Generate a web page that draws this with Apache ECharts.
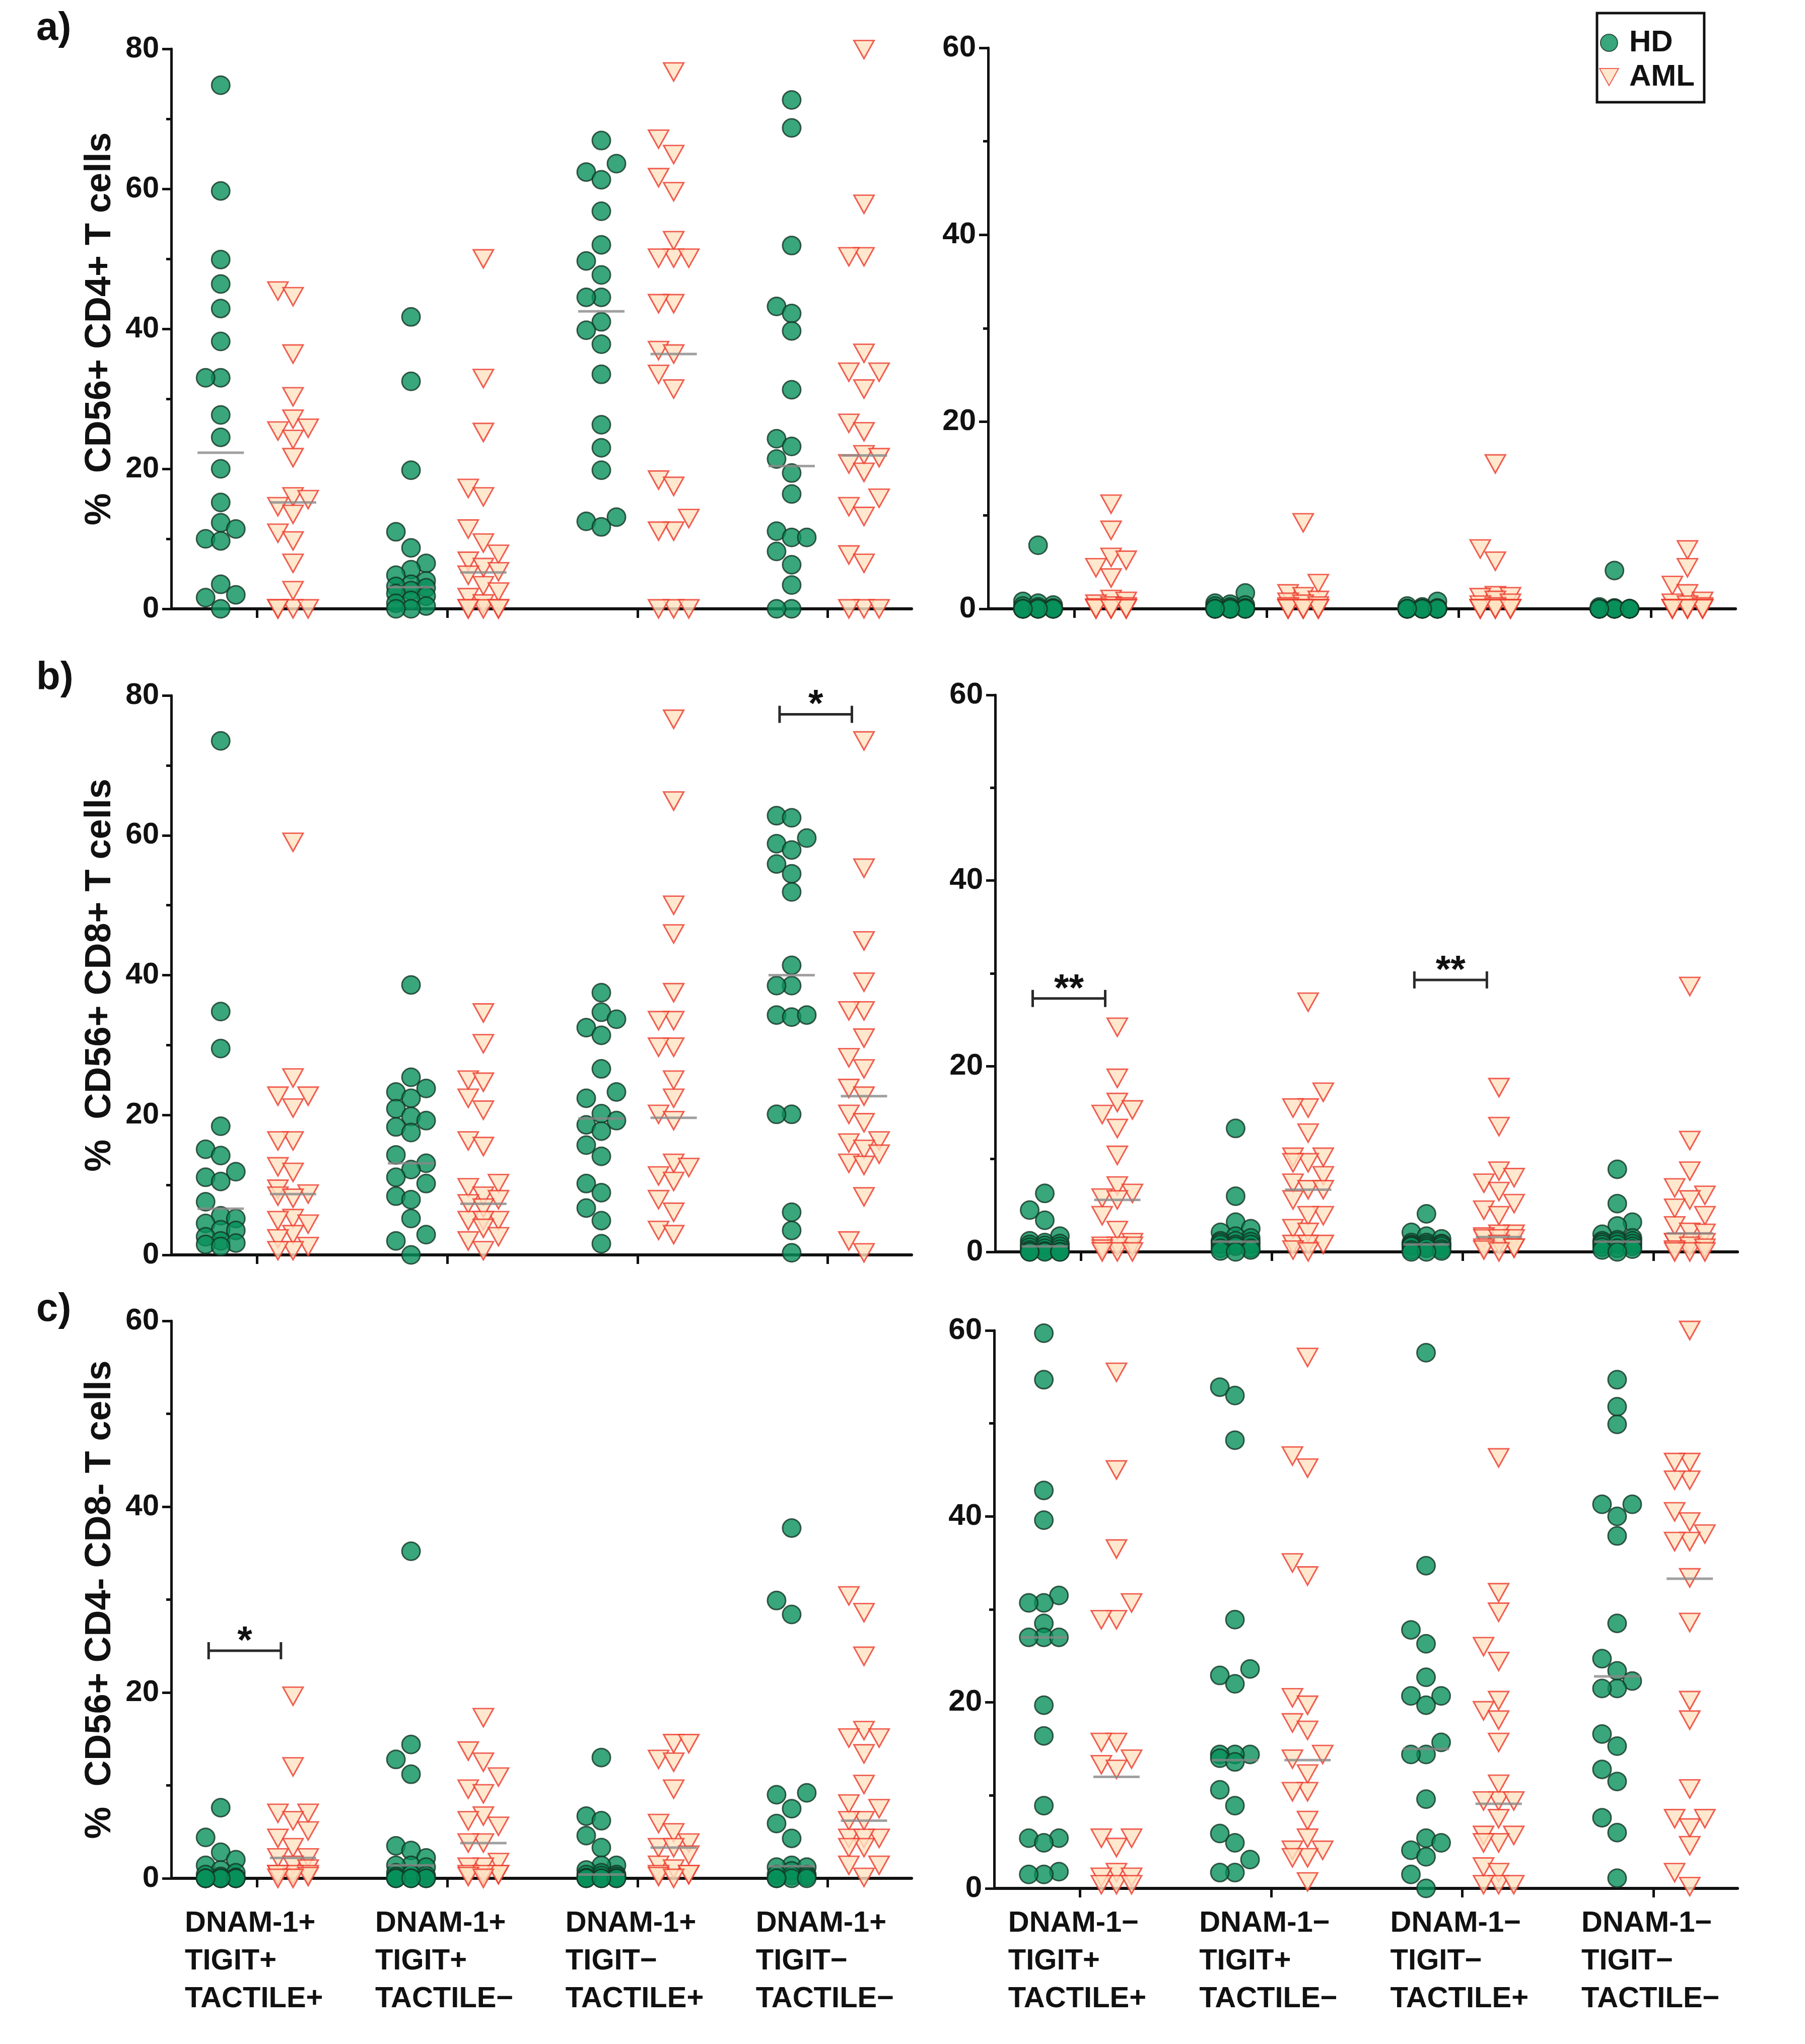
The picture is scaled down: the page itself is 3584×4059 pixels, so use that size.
<!DOCTYPE html>
<html><head><meta charset="utf-8">
<script src="https://cdn.jsdelivr.net/npm/echarts@6/dist/echarts.min.js"></script>
<style>html,body{margin:0;padding:0;background:#fff}#c{width:3584px;height:4059px}</style>
</head><body><div id="c"></div>
<script>
// ---------- category / tick labels ----------
const groupLabelsPos = ['DNAM-1+\nTIGIT+\nTACTILE+', 'DNAM-1+\nTIGIT+\nTACTILE\u2212', 'DNAM-1+\nTIGIT\u2212\nTACTILE+', 'DNAM-1+\nTIGIT\u2212\nTACTILE\u2212'];
const groupLabelsNeg = ['DNAM-1\u2212\nTIGIT+\nTACTILE+', 'DNAM-1\u2212\nTIGIT+\nTACTILE\u2212', 'DNAM-1\u2212\nTIGIT\u2212\nTACTILE+', 'DNAM-1\u2212\nTIGIT\u2212\nTACTILE\u2212'];
const yTitles = ['%  CD56+ CD4+ T cells', '%  CD56+ CD8+ T cells', '%  CD56+ CD4- CD8- T cells'];
const panelTags = ['a)', 'b)', 'c)'];
const seriesNames = ['HD', 'AML'];

// ---------- a) CD56+ CD4+ T cells, DNAM-1+ subsets ----------
const cd4PosHD = [
  [74.8, 59.7, 49.9, 46.4, 42.9, 38.2, 33.0, 33.0, 27.7, 24.5, 20.0, 15.2, 12.3, 11.4, 10.0, 9.7, 3.5, 2.0, 1.6, 0.0],
  [41.7, 32.5, 19.8, 11.0, 8.7, 6.5, 5.6, 4.8, 4.0, 3.5, 3.2, 3.0, 2.6, 2.2, 1.8, 1.2, 0.8, 0.4, 0, 0],
  [66.9, 63.6, 62.4, 61.3, 56.8, 52.0, 49.7, 47.7, 44.5, 44.5, 41.0, 39.8, 37.8, 33.5, 26.3, 23.0, 19.8, 13.1, 12.5, 11.7],
  [72.7, 68.7, 51.9, 43.2, 42.2, 39.7, 31.3, 24.3, 23.2, 21.4, 19.4, 16.4, 11.1, 10.2, 10.2, 8.2, 6.3, 3.4, 0, 0]
];
const cd4PosAML = [
  [45.4, 44.6, 36.4, 30.3, 27.1, 25.8, 25.4, 24.2, 21.6, 16.0, 15.6, 14.6, 13.5, 10.8, 9.7, 6.5, 2.6, 0, 0, 0, 0],
  [50.0, 32.9, 25.2, 17.2, 16.0, 11.4, 9.4, 7.8, 6.8, 5.9, 5.3, 4.8, 3.3, 2.4, 1.6, 0.7, 0, 0, 0, 0, 0],
  [76.7, 67.1, 64.9, 61.6, 59.6, 52.6, 50.1, 50.1, 50.1, 43.6, 43.6, 36.9, 36.4, 33.5, 31.4, 18.4, 17.5, 12.9, 11.1, 11.1, 0, 0, 0],
  [79.9, 57.8, 50.3, 50.3, 36.5, 33.8, 33.8, 31.4, 26.5, 25.3, 22.0, 21.6, 20.7, 19.5, 15.8, 14.6, 13.2, 7.7, 6.5, 0, 0, 0]
];
const cd4PosMedHD = [22.3, 3.1, 42.5, 20.4];
const cd4PosMedAML = [15.2, 5.2, 36.4, 21.9];
const cd4PosBrackets = [];

// ---------- a) CD56+ CD4+ T cells, DNAM-1- subsets ----------
const cd4NegHD = [
  [6.8, 0.8, 0.6, 0.4, 0.3, 0.2, 0.1, 0, 0, 0, 0, 0, 0, 0, 0, 0, 0, 0, 0, 0],
  [1.7, 0.6, 0.5, 0.4, 0.3, 0.2, 0.1, 0, 0, 0, 0, 0, 0, 0, 0, 0, 0, 0, 0, 0],
  [0.8, 0.3, 0.2, 0.1, 0, 0, 0, 0, 0, 0, 0, 0, 0, 0, 0, 0, 0, 0, 0, 0],
  [4.1, 0.2, 0.1, 0, 0, 0, 0, 0, 0, 0, 0, 0, 0, 0, 0, 0, 0, 0, 0, 0]
];
const cd4NegAML = [
  [11.2, 8.4, 5.5, 5.2, 4.4, 3.3, 1.0, 0.8, 0.5, 0.3, 0.2, 0.1, 0, 0, 0, 0, 0, 0, 0, 0, 0],
  [9.2, 2.7, 1.6, 1.3, 0.9, 0.7, 0.5, 0.3, 0.2, 0, 0, 0, 0, 0, 0, 0, 0, 0, 0, 0, 0],
  [15.5, 6.4, 5.1, 1.4, 1.3, 1.2, 0.9, 0.6, 0.4, 0.2, 0, 0, 0, 0, 0, 0, 0, 0, 0, 0, 0],
  [6.3, 4.4, 2.5, 1.6, 0.8, 0.6, 0.4, 0.2, 0, 0, 0, 0, 0, 0, 0, 0, 0, 0, 0, 0, 0]
];
const cd4NegMedHD = [0, 0, 0, 0];
const cd4NegMedAML = [0, 0, 0, 0];
const cd4NegBrackets = [];

// ---------- b) CD56+ CD8+ T cells, DNAM-1+ subsets ----------
const cd8PosHD = [
  [73.5, 34.8, 29.5, 18.4, 15.1, 14.2, 11.9, 11.1, 10.5, 7.6, 5.6, 5.2, 4.5, 3.6, 3.5, 2.6, 2.0, 1.7, 1.5, 1.2],
  [38.6, 25.4, 23.8, 23.3, 22.4, 20.9, 19.8, 19.2, 18.3, 17.5, 14.3, 13.1, 12.2, 11.1, 10.2, 8.4, 7.9, 5.2, 2.9, 2.0, 0],
  [37.5, 34.7, 33.7, 32.5, 31.4, 26.6, 23.3, 22.4, 20.2, 19.2, 18.6, 17.7, 15.7, 14.1, 10.2, 8.9, 6.7, 4.9, 1.6],
  [62.8, 62.5, 59.6, 58.8, 57.9, 55.9, 54.5, 51.9, 41.4, 38.5, 38.5, 34.3, 34.0, 34.3, 20.1, 20.1, 6.1, 3.5, 0.3]
];
const cd8PosAML = [
  [59.0, 25.3, 22.7, 22.7, 21.0, 16.3, 16.3, 12.6, 11.8, 9.4, 8.7, 8.4, 8.1, 5.2, 4.9, 4.4, 2.9, 2.3, 1.2, 0.6, 0.6],
  [34.6, 30.2, 25.0, 24.7, 22.4, 20.7, 16.3, 15.5, 10.2, 9.6, 8.4, 7.9, 7.3, 6.7, 4.9, 4.9, 4.9, 3.8, 2.6, 2.0, 0.6],
  [76.6, 64.9, 50.0, 45.9, 37.5, 33.5, 33.5, 29.7, 29.7, 25.0, 22.4, 20.1, 19.2, 13.1, 12.5, 11.3, 10.5, 7.9, 6.1, 3.5, 2.9],
  [73.5, 55.3, 44.9, 39.0, 34.9, 34.9, 31.0, 28.2, 26.6, 23.8, 22.7, 20.1, 18.9, 16.3, 16.0, 15.1, 14.4, 13.1, 12.8, 8.3, 2.0, 0.3]
];
const cd8PosMedHD = [6.6, 13.1, 19.5, 40.0];
const cd8PosMedAML = [8.7, 7.3, 19.6, 22.7];
const cd8PosBrackets = [{ group: 3, y: 77.3, text: '*' }];

// ---------- b) CD56+ CD8+ T cells, DNAM-1- subsets ----------
const cd8NegHD = [
  [6.3, 4.5, 3.4, 1.7, 1.2, 1.0, 0.9, 0.8, 0.7, 0.6, 0.5, 0.4, 0.3, 0.2, 0.1, 0, 0, 0, 0, 0],
  [13.3, 6.0, 3.2, 2.5, 2.1, 1.7, 1.5, 1.2, 1.2, 1.1, 1.0, 0.8, 0.8, 0.8, 0.6, 0.4, 0.4, 0.2, 0.1, 0],
  [4.1, 2.1, 1.7, 1.4, 1.0, 1.0, 0.9, 0.8, 0.8, 0.8, 0.7, 0.6, 0.6, 0.6, 0.4, 0.3, 0.2, 0.1, 0, 0],
  [8.9, 5.2, 3.2, 2.8, 1.9, 1.5, 1.3, 1.2, 1.2, 1.1, 1.0, 0.9, 0.8, 0.8, 0.6, 0.5, 0.4, 0.3, 0.2, 0]
];
const cd8NegAML = [
  [24.2, 18.7, 16.1, 15.3, 14.8, 13.3, 10.4, 7.1, 6.3, 5.8, 5.6, 3.9, 2.3, 1.0, 0.6, 0.6, 0.6, 0.3, 0, 0, 0],
  [26.9, 17.2, 15.5, 15.5, 12.8, 10.2, 10.2, 9.6, 9.6, 8.2, 7.4, 6.7, 6.7, 5.6, 3.9, 3.9, 2.5, 2.1, 0.8, 0.8, 0.8, 0.2, 0],
  [17.7, 13.5, 8.7, 8.0, 7.4, 6.5, 5.2, 4.5, 3.9, 1.9, 1.9, 1.6, 1.4, 1.4, 1.4, 0.8, 0.4, 0.4, 0.4, 0.2, 0],
  [28.6, 12.0, 8.7, 6.9, 6.1, 5.6, 4.7, 3.9, 2.8, 2.1, 2.0, 1.0, 1.0, 1.0, 1.0, 0.6, 0.4, 0.2, 0, 0, 0]
];
const cd8NegMedHD = [0.6, 1.1, 0.8, 1.1];
const cd8NegMedAML = [5.6, 6.7, 1.6, 2.0];
const cd8NegBrackets = [{ group: 0, y: 27.3, text: '**' }, { group: 2, y: 29.3, text: '**' }];

// ---------- c) CD56+ CD4- CD8- T cells, DNAM-1+ subsets ----------
const dnPosHD = [
  [7.6, 4.4, 2.8, 2.0, 1.4, 0.9, 0.6, 0.4, 0.2, 0.1, 0, 0, 0, 0, 0, 0, 0, 0, 0, 0],
  [35.2, 14.4, 12.8, 11.2, 3.5, 3.0, 2.2, 1.4, 1.4, 1.2, 0.6, 0.4, 0.3, 0.2, 0, 0, 0, 0, 0, 0],
  [13.0, 6.7, 6.2, 4.6, 3.3, 1.4, 1.4, 0.9, 0.6, 0.4, 0.4, 0.3, 0.2, 0.1, 0, 0, 0, 0, 0, 0],
  [37.7, 29.9, 28.4, 9.2, 9.0, 7.5, 5.9, 4.3, 1.4, 1.2, 1.2, 0.8, 0.4, 0.4, 0.3, 0.2, 0, 0, 0, 0]
];
const dnPosAML = [
  [19.6, 12.0, 7.0, 7.0, 6.2, 5.1, 4.3, 3.3, 2.2, 2.2, 1.4, 1.0, 0.4, 0.4, 0.4, 0.4, 0.2, 0, 0],
  [17.3, 13.7, 12.5, 10.9, 9.6, 9.1, 6.7, 6.2, 5.6, 3.8, 3.8, 1.7, 1.2, 1.2, 0.4, 0.4, 0.4, 0.4, 0.2, 0],
  [14.5, 14.5, 12.8, 12.5, 9.6, 5.9, 4.9, 3.8, 3.3, 3.3, 2.5, 1.4, 1.0, 0.4, 0.4, 0.4, 0.2, 0],
  [30.4, 28.6, 23.9, 15.9, 15.1, 15.1, 13.4, 10.1, 8.0, 7.5, 6.2, 6.2, 4.3, 4.3, 4.3, 3.3, 3.3, 1.4, 1.4, 0.1]
];
const dnPosMedHD = [0, 1.4, 0.4, 1.3];
const dnPosMedAML = [2.2, 3.8, 3.3, 6.2];
const dnPosBrackets = [{ group: 0, y: 24.5, text: '*' }];

// ---------- c) CD56+ CD4- CD8- T cells, DNAM-1- subsets ----------
const dnNegHD = [
  [59.7, 54.7, 42.8, 39.6, 31.5, 30.7, 30.7, 28.5, 27.0, 27.0, 27.0, 19.7, 16.4, 8.9, 5.4, 5.4, 4.9, 1.8, 1.5, 1.5],
  [53.9, 53.0, 48.2, 28.9, 23.6, 22.9, 22.0, 14.4, 14.4, 14.4, 14.0, 13.6, 10.6, 8.9, 5.9, 4.9, 3.1, 1.7, 1.7],
  [57.6, 34.7, 27.8, 26.3, 22.7, 20.7, 20.7, 19.7, 15.7, 14.4, 14.4, 9.6, 5.4, 4.9, 4.1, 3.4, 1.5, 0],
  [54.7, 51.8, 49.9, 41.3, 41.3, 40.0, 37.9, 28.5, 24.7, 23.4, 22.3, 21.5, 21.5, 16.6, 15.3, 12.8, 11.5, 7.6, 6.0, 1.1]
];
const dnNegAML = [
  [55.5, 45.0, 36.5, 30.7, 28.9, 28.9, 15.7, 15.7, 13.9, 13.3, 12.8, 5.4, 5.4, 4.4, 1.7, 1.2, 1.2, 0.4, 0.4, 0.4],
  [57.1, 46.5, 45.2, 35.0, 33.6, 20.5, 19.7, 17.8, 17.0, 14.4, 13.9, 12.3, 10.4, 10.4, 7.3, 5.4, 4.1, 4.1, 3.3, 3.3, 0.7],
  [46.3, 31.8, 29.7, 26.0, 24.4, 20.2, 19.1, 18.1, 15.7, 11.2, 9.4, 9.4, 9.4, 7.5, 5.7, 5.7, 4.9, 4.9, 2.3, 1.7, 0.4, 0.4, 0.4],
  [60.0, 45.8, 45.8, 43.9, 43.9, 40.5, 39.4, 38.1, 37.3, 37.3, 33.4, 28.6, 20.2, 18.1, 10.7, 7.5, 7.5, 6.5, 4.6, 1.7, 0.2]
];
const dnNegMedHD = [27.0, 13.8, 15.0, 22.8];
const dnNegMedAML = [12.0, 13.8, 9.1, 33.3];
const dnNegBrackets = [];

const yMaxes = [80, 60, 80, 60, 60, 60];

// ---------- layout (styles / positions only) ----------
const FONT = '"Liberation Sans", Arial, sans-serif';
const panels = [
  { hd: cd4PosHD, aml: cd4PosAML, mHD: cd4PosMedHD, mAML: cd4PosMedAML, br: cd4PosBrackets, grid: { left: 340, top: 97, width: 1470, height: 1112 }, title: yTitles[0], labels: null },
  { hd: cd4NegHD, aml: cd4NegAML, mHD: cd4NegMedHD, mAML: cd4NegMedAML, br: cd4NegBrackets, grid: { left: 1962, top: 95, width: 1484, height: 1114 }, title: '', labels: null },
  { hd: cd8PosHD, aml: cd8PosAML, mHD: cd8PosMedHD, mAML: cd8PosMedAML, br: cd8PosBrackets, grid: { left: 340, top: 1381, width: 1470, height: 1111 }, title: yTitles[1], labels: null },
  { hd: cd8NegHD, aml: cd8NegAML, mHD: cd8NegMedHD, mAML: cd8NegMedAML, br: cd8NegBrackets, grid: { left: 1976, top: 1380, width: 1474, height: 1106 }, title: '', labels: null },
  { hd: dnPosHD, aml: dnPosAML, mHD: dnPosMedHD, mAML: dnPosMedAML, br: dnPosBrackets, grid: { left: 340, top: 2623, width: 1470, height: 1107 }, title: yTitles[2], labels: groupLabelsPos, margin: 52 },
  { hd: dnNegHD, aml: dnNegAML, mHD: dnNegMedHD, mAML: dnNegMedAML, br: dnNegBrackets, grid: { left: 1974, top: 2642, width: 1476, height: 1108 }, title: '', labels: groupLabelsNeg, margin: 32 }
];
const OFF = 0.19; // HD / AML position inside a group (axis units)
const TRI = 'path://M0,0 L20,0 L10,18 Z';
const hdStyle = { color: '#08905a', borderColor: '#143626', borderWidth: 3 };
const amlStyle = { color: '#ffe2c2', borderColor: '#ec3a2c', borderWidth: 3 };

function pointData(groups, sign) {
  const out = [];
  groups.forEach((vals, g) => vals.forEach(v => out.push({ value: [g + sign * OFF, v], symbolOffset: [0, 0] })));
  return out;
}

const series = [];
const scatterIdx = [];
panels.forEach((p, k) => {
  scatterIdx.push({ s: series.length, k, step: 30, dist: 33 });
  series.push({ name: seriesNames[0], type: 'scatter', xAxisIndex: k, yAxisIndex: k, symbol: 'circle', symbolSize: 36, itemStyle: hdStyle, z: 3, data: pointData(p.hd, -1), animation: false });
  scatterIdx.push({ s: series.length, k, step: 30, dist: 35 });
  series.push({ name: seriesNames[1], type: 'scatter', xAxisIndex: k, yAxisIndex: k, symbol: TRI, symbolSize: [40, 36], itemStyle: amlStyle, z: 3, data: pointData(p.aml, 1), animation: false });
  const med = [];
  p.mHD.forEach((m, g) => { if (m > 0) med.push([g - OFF, m]); });
  p.mAML.forEach((m, g) => { if (m > 0) med.push([g + OFF, m]); });
  series.push({ name: 'median', type: 'scatter', xAxisIndex: k, yAxisIndex: k, symbol: 'rect', symbolSize: [92, 5], itemStyle: { color: '#888888' }, z: 6, data: med, animation: false, silent: true });
  if (p.br.length) {
    const br = p.br;
    series.push({
      name: 'sig', type: 'custom', xAxisIndex: k, yAxisIndex: k, z: 7, animation: false, silent: true,
      encode: { x: [0, 1], y: 2 },
      data: br.map(b => [b.group - OFF, b.group + OFF, b.y]),
      renderItem: function (params, api) {
        const a = api.coord([api.value(0), api.value(2)]);
        const b = api.coord([api.value(1), api.value(2)]);
        const sh = -24, cap = 17;
        const st = { stroke: '#2a2a2a', lineWidth: 5 };
        return { type: 'group', children: [
          { type: 'line', shape: { x1: a[0] + sh, y1: a[1], x2: b[0] + sh, y2: b[1] }, style: st },
          { type: 'line', shape: { x1: a[0] + sh, y1: a[1] - cap, x2: a[0] + sh, y2: a[1] + cap }, style: st },
          { type: 'line', shape: { x1: b[0] + sh, y1: b[1] - cap, x2: b[0] + sh, y2: b[1] + cap }, style: st },
          { type: 'text', x: (a[0] + b[0]) / 2 + sh, y: a[1] - 17, style: { text: br[params.dataIndex].text, textAlign: 'center', textVerticalAlign: 'middle', font: 'bold 76px ' + FONT, fill: '#111' } }
        ] };
      }
    });
  }
});

const option = {
  backgroundColor: '#ffffff',
  animation: false,
  grid: panels.map(p => Object.assign({}, p.grid)),
  xAxis: panels.map((p, k) => ({
    gridIndex: k, type: 'value', min: -0.45, max: 3.44,
    axisLine: { show: true, onZero: false, lineStyle: { color: '#111', width: 6 } },
    axisTick: { show: true, customValues: [0, 1, 2, 3], length: 18, lineStyle: { color: '#111', width: 5 } },
    axisLabel: {
      show: !!p.labels, customValues: [0, 1, 2, 3], margin: p.margin || 40, align: 'center', verticalAlign: 'top',
      formatter: v => { if (!p.labels) return ''; const t = p.labels[Math.round(v)] || ''; return t.split('\n').map(s => '{t|' + s + '}').join('\n'); },
      rich: { t: { width: 286, align: 'left', fontSize: 58, fontWeight: 'bold', fontFamily: FONT, color: '#111', lineHeight: 75 } }
    },
    splitLine: { show: false }
  })),
  yAxis: panels.map((p, k) => ({
    gridIndex: k, type: 'value', min: 0, max: yMaxes[k], interval: 20,
    axisLine: { show: true, onZero: false, lineStyle: { color: '#111', width: 5 } },
    axisTick: { show: true, length: 18, lineStyle: { color: '#111', width: 5 } },
    minorTick: { show: true, splitNumber: 2, length: 10, lineStyle: { color: '#111', width: 5 } },
    axisLabel: { fontSize: 60, fontWeight: 'bold', fontFamily: FONT, color: '#111', margin: 24 },
    splitLine: { show: false }, minorSplitLine: { show: false },
    name: p.title, nameLocation: 'middle', nameRotate: 90, nameGap: 105,
    nameTextStyle: { fontSize: 72, fontWeight: 'bold', fontFamily: FONT, color: '#111' }
  })),
  legend: {
    data: seriesNames, orient: 'vertical', left: 3171, top: 26, padding: [29, 19, 20, 4],
    itemWidth: 70, itemHeight: 34, itemGap: 8, borderColor: '#111', borderWidth: 5, selectedMode: false,
    textStyle: { fontSize: 60, fontWeight: 'bold', fontFamily: FONT, color: '#111', lineHeight: 60 }
  },
  graphic: panelTags.map((t, i) => ({
    type: 'text', left: 72, top: [18, 1308, 2562][i],
    style: { text: t, font: 'bold 78px ' + FONT, fill: '#111' }
  })),
  series: series
};

const chart = echarts.init(document.getElementById('c'), null, { renderer: 'canvas', devicePixelRatio: 1 });
chart.setOption(option);

// beeswarm: spread overlapping points horizontally (pixel offsets only)
function swarm(items, step, dist) {
  const order = items.slice().sort((a, b) => b.py - a.py);
  const placed = [], res = {};
  const cands = [0, -step, step];
  for (const it of order) {
    let best = 0, bestOv = Infinity;
    for (const c of cands) {
      let ov = 0;
      for (const q of placed) { const d = Math.hypot(q.x - c, q.y - it.py); if (d < dist) ov += dist - d; }
      if (ov < bestOv - 1e-6) { bestOv = ov; best = c; }
      if (ov === 0) break;
    }
    placed.push({ x: best, y: it.py });
    res[it.i] = best;
  }
  return res;
}
scatterIdx.forEach(info => {
  const s = series[info.s];
  const byGroup = {};
  s.data.forEach((d, i) => {
    const px = chart.convertToPixel({ gridIndex: info.k }, d.value);
    const g = Math.round(d.value[0]);
    (byGroup[g] = byGroup[g] || []).push({ i, py: px[1] });
  });
  Object.keys(byGroup).forEach(g => {
    const r = swarm(byGroup[g], info.step, info.dist);
    Object.keys(r).forEach(i => { s.data[i].symbolOffset = [r[i], 0]; });
  });
});
chart.setOption({ series: series });
</script>
</body></html>
